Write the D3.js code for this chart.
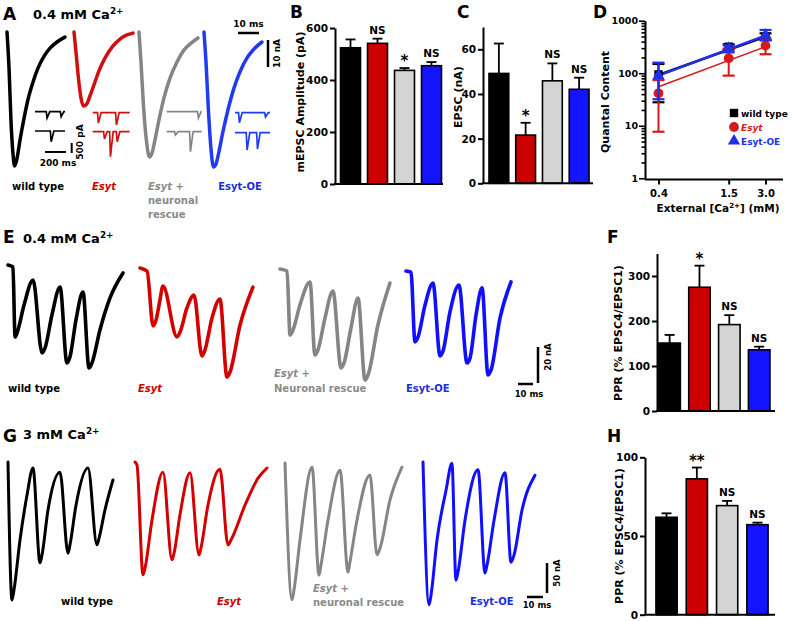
<!DOCTYPE html>
<html><head><meta charset="utf-8">
<script src="https://cdn.jsdelivr.net/npm/d3@7"></script>
<style>
body{margin:0;background:#fff}
svg{display:block}
text{font-family:"DejaVu Sans",sans-serif;font-weight:bold}
</style></head><body>
<svg id="fig" width="792" height="621"></svg>
<script>
// ---------------- DATA ----------------
const groups = ["wild type", "Esyt", "Esyt + neuronal rescue", "Esyt-OE"];
const barFill = ["#000000", "#cc0000", "#d4d4d4", "#1414ff"];
const traceCol = ["#000000", "#d01010", "#858585", "#1f3cf0"];
const trainCol = ["#000000", "#d40000", "#858585", "#1010ff"];
const textCol = ["#000000", "#cc0000", "#8a8a8a", "#1c2fd6"];

// B: mEPSC amplitude (pA)
const mepscMean = [524, 541, 437, 455];
const mepscErr = [32, 18, 9, 14];
const mepscSig = ["", "NS", "*", "NS"];
const mepscTicks = [0, 200, 400, 600];

// C: EPSC (nA)
const epscMean = [49.2, 21.6, 45.9, 42.1];
const epscErr = [13.4, 5.5, 7.8, 5.2];
const epscSig = ["", "*", "NS", "NS"];
const epscTicks = [0, 20, 40, 60];

// D: quantal content vs external Ca2+
const caConc = [0.4, 1.5, 3.0];
const qcWT = [95, 320, 497];
const qcWTLo = [28, 285, 430];
const qcWTHi = [150, 355, 575];
const qcEsyt = [41.5, 193, 335];
const qcEsytLo = [7.7, 90, 230];
const qcEsytHi = [74, 296, 440];
const qcOE = [90, 298, 535];
const qcOELo = [32, 250, 420];
const qcOEHi = [159, 340, 667];
const fitEnds = [0.4, 3.0];
const fitWT = [93, 497];
const fitEsyt = [55, 320];
const fitOE = [90, 520];
const qcTicks = [1, 10, 100, 1000];
const caTickLabels = ["0.4", "1.5", "3.0"];

// F: PPR at 0.4 mM
const pprLowMean = [151, 275, 192, 136];
const pprLowErr = [18, 48, 21, 7];
const pprLowSig = ["", "*", "NS", "NS"];
const pprLowTicks = [0, 100, 200, 300];

// H: PPR at 3 mM
const pprHighMean = [61.9, 86.3, 69.3, 57.2];
const pprHighErr = [2.5, 7.2, 3, 1.3];
const pprHighSig = ["", "**", "NS", "NS"];
const pprHighTicks = [0, 50, 100];

// A: averaged EPSC traces [ms, nA]
const aWT = [[0,0],[1,-14],[1.9,-33],[2.9,-45.5],[3.6,-49.6],[4.8,-46.7],[6.2,-40],[8.1,-32],[10,-25],[12.4,-18.5],[14.8,-13.3],[17.6,-9],[20.5,-6],[23.8,-3.7],[27.6,-1.9]];
const aEsyt = [[0,0],[0.95,-7.4],[2.1,-17],[3.3,-24.4],[4.5,-27.4],[6,-26.7],[7.6,-23.7],[9.5,-19.6],[11.9,-14.4],[14.8,-9.6],[18.1,-5.6],[21.9,-2.6],[25.2,-1.1],[28.1,-0.4]];
const aRescue = [[0,0],[0.95,-11.1],[2.1,-27],[3.6,-40.7],[5,-46.3],[6.2,-44.8],[7.6,-40],[9.5,-32.6],[11.9,-24.4],[14.8,-17],[18.1,-11.1],[21.4,-6.7],[24.8,-4.1],[28.1,-2.2]];
const aOE = [[0,0],[0.95,-11.1],[2.1,-28.9],[3.3,-43],[4.5,-50],[5.7,-48.9],[7.1,-44.4],[9,-37],[11.4,-28.9],[14.3,-20.7],[17.1,-14.8],[20.5,-9.6],[23.8,-6.3],[27.6,-3.7]];

// A insets: mEPSC events [time ms, amplitude pA], two sweeps per genotype
const miniDur = [286, 352, 333, 333];
const miniEvents = [
  [[[111,315],[245,250]], [[150,535]]],
  [[[50,515],[222,615]], [[108,365],[165,1250],[229,500]]],
  [[[298,315]], [[79,165],[222,1000]]],
  [[[38,500],[286,215]], [[111,865],[210,815]]]
];

// E: 4-pulse trains at 0.4 mM [ms, nA]
const eWT = [[0,0],[3.3,-1.1],[4.7,-40],[6,-37.8],[10.7,-22.2],[16.7,-8.3],[22.7,-48.9],[24.7,-46.1],[29.3,-27.8],[34.7,-12.2],[39.3,-54.4],[41.3,-51.1],[45.3,-30.6],[50,-15],[54,-57.2],[56,-54.4],[61.3,-36.1],[68,-18.3],[76.7,-4.4]];
const eEsyt = [[0,0],[4.7,-1.7],[8.7,-32.2],[10.7,-28.9],[13.3,-17.8],[15.3,-10],[24.7,-38.3],[26.7,-35.6],[31.3,-22.2],[36,-15],[41.3,-48.9],[43.3,-45.6],[48,-27.8],[53.3,-17.2],[58,-60.6],[60,-57.8],[66.7,-31.7],[75.3,-10.6]];
const eRescue = [[0,0],[4.7,-1.1],[6.7,-36.7],[8.7,-33.9],[13.3,-20],[20,-7.2],[23.3,-47.8],[25.3,-45],[30,-27.2],[35.3,-12.2],[40.7,-55],[42.7,-52.2],[47.3,-32.8],[52,-16.1],[56.7,-61.7],[58.7,-58.9],[65.3,-31.1],[73.3,-7.8]];
const eOE = [[0,0],[3.3,-0.6],[6,-39.4],[8,-36.7],[12.7,-18.9],[18,-6.7],[22.7,-47.2],[24.7,-44.4],[29.3,-22.8],[35.3,-7.8],[40.7,-51.1],[42.7,-48.3],[46.7,-24.4],[50.7,-9.4],[54.7,-57.8],[56.7,-55],[62.7,-26.1],[70,-6.1]];

// G: 4-pulse trains at 3 mM [ms, nA]
const gWT = [[0,0],[2.5,-230],[3.75,-213],[7.5,-130],[11.9,-55],[15.6,-10],[20,-168],[21.25,-155],[25,-80],[32.5,-17],[37.5,-152],[38.75,-138],[42.5,-72],[50,-10],[55.6,-138],[56.9,-127],[60.6,-80],[65.6,-30]];
const gEsyt = [[0,0],[1.25,-5],[5,-188],[6.25,-177],[10.6,-97],[17.5,-17],[23.1,-163],[24.4,-152],[28.1,-88],[34.4,-18],[40,-155],[41.25,-143],[45.6,-72],[53.1,-12],[58.1,-138],[60,-130],[68.75,-72],[76.9,-27],[82.5,-10]];
const gRescue = [[0,0],[4.4,-228],[5.6,-212],[9.4,-128],[16.9,-7],[21.25,-187],[22.5,-170],[26.9,-95],[34.4,-12],[39.4,-182],[40.6,-165],[45,-95],[53.1,-20],[57.5,-153],[59.4,-142],[65.6,-62],[73.1,-7]];
const gOE = [[0,0],[3.75,-238],[5,-222],[8.75,-130],[14.4,-47],[18.1,-2],[20.6,-197],[21.9,-183],[26.25,-97],[34.4,-13],[38.75,-185],[40,-172],[44.4,-97],[51.25,-18],[55,-167],[56.9,-155],[61.9,-80],[70,-22]];

// ---------------- DRAWING ----------------
const svg = d3.select("#fig");

function label(x, y, parts, o = {}) {
  const size = o.size || 10;
  const t = svg.append("text").attr("x", x).attr("y", y)
    .attr("font-size", size).attr("text-anchor", o.anchor || "start")
    .attr("fill", o.fill || "#000");
  if (o.rot) t.attr("transform", `rotate(-90 ${x} ${y})`);
  for (const p of parts) {
    const s = t.append("tspan");
    if (typeof p === "string") { s.text(p); continue; }
    s.text(p.t);
    if (p.it) s.attr("font-style", "italic");
    if (p.sup) s.attr("font-size", size * 0.68).attr("dy", -size * 0.42);
    if (p.down) s.attr("dy", size * 0.42);
  }
  return t;
}

// panel letters and titles
label(3, 20, ["A"], {size: 17});
label(33, 19, ["0.4 mM Ca", {t: "2+", sup: true}], {size: 13});
label(290, 18, ["B"], {size: 17});
label(457, 18, ["C"], {size: 17});
label(593, 18, ["D"], {size: 17});
label(3, 243, ["E"], {size: 17});
label(23, 243, ["0.4 mM Ca", {t: "2+", sup: true}], {size: 13});
label(607, 243, ["F"], {size: 17});
label(3, 442, ["G"], {size: 17});
label(23, 439, ["3 mM Ca", {t: "2+", sup: true}], {size: 13});
label(607, 442, ["H"], {size: 17});

// ---- bar panels ----
function barPanel(c) {
  const y = d3.scaleLinear().domain([0, c.max]).range([c.y0, c.yTop]);
  const x = d3.scaleBand().domain(groups).range(c.xr).paddingInner(c.pi).paddingOuter(c.po);
  const g = svg.append("g");
  const bw = x.bandwidth();
  const cx = i => x(groups[i]) + bw / 2;
  g.selectAll(null).data(c.mean).join("line")
    .attr("x1", (d, i) => cx(i)).attr("x2", (d, i) => cx(i))
    .attr("y1", d => y(d)).attr("y2", (d, i) => y(d + c.err[i]))
    .attr("stroke", "#000").attr("stroke-width", 1.8);
  g.selectAll(null).data(c.mean).join("line")
    .attr("x1", (d, i) => cx(i) - 5).attr("x2", (d, i) => cx(i) + 5)
    .attr("y1", (d, i) => y(d + c.err[i])).attr("y2", (d, i) => y(d + c.err[i]))
    .attr("stroke", "#000").attr("stroke-width", 1.8);
  g.selectAll(null).data(c.mean).join("rect")
    .attr("x", (d, i) => x(groups[i])).attr("width", bw)
    .attr("y", d => y(d)).attr("height", d => c.y0 - y(d))
    .attr("fill", (d, i) => barFill[i]).attr("stroke", "#000").attr("stroke-width", 1.6);
  c.sig.forEach((s, i) => {
    if (!s) return;
    const top = y(c.mean[i] + c.err[i]);
    if (s[0] === "*") label(cx(i), top - 2, [s], {size: 15, anchor: "middle"});
    else label(cx(i), top - 5, [s], {size: 10.5, anchor: "middle"});
  });
  const ax = g.append("g").attr("transform", `translate(${c.axisX},0)`)
    .call(d3.axisLeft(y).tickValues(c.ticks).tickSize(5).tickSizeOuter(0).tickPadding(2));
  ax.attr("font-family", null).attr("font-size", 10.5);
  ax.select(".domain").attr("stroke-width", 2);
  ax.selectAll(".tick line").attr("stroke-width", 2);
  g.append("line").attr("x1", c.axisX - 1).attr("x2", c.xEnd)
    .attr("y1", c.y0).attr("y2", c.y0).attr("stroke", "#000").attr("stroke-width", 2);
  label(c.lab[0], c.lab[1], [c.title], {size: 11, anchor: "middle", rot: true});
}

barPanel({mean: mepscMean, err: mepscErr, sig: mepscSig, ticks: mepscTicks, max: 600,
  y0: 184, yTop: 28, xr: [337, 445], pi: 0.26, po: 0.13, axisX: 335, xEnd: 443,
  title: "mEPSC Amplitude (pA)", lab: [304, 102]});
barPanel({mean: epscMean, err: epscErr, sig: epscSig, ticks: epscTicks, max: 70,
  y0: 183.3, yTop: 27, xr: [485.5, 592.5], pi: 0.26, po: 0.13, axisX: 483, xEnd: 593,
  title: "EPSC (nA)", lab: [462, 97]});
barPanel({mean: pprLowMean, err: pprLowErr, sig: pprLowSig, ticks: pprLowTicks, max: 350,
  y0: 411, yTop: 253.5, xr: [655, 773.8], pi: 0.28, po: 0.13, axisX: 657, xEnd: 775,
  title: "PPR (% EPSC4/EPSC1)", lab: [622, 333]});
barPanel({mean: pprHighMean, err: pprHighErr, sig: pprHighSig, ticks: pprHighTicks, max: 100,
  y0: 614.7, yTop: 457.3, xr: [652, 772], pi: 0.3, po: 0.13, axisX: 645, xEnd: 775,
  title: "PPR (% EPSC4/EPSC1)", lab: [623, 536]});

// ---- D: log-log quantal content ----
(function () {
  const y = d3.scaleLog().domain([1, 1000]).range([178.3, 20.7]);
  const x = d3.scaleLog().domain([0.3, 4]).range([643.2, 780.8]);
  const g = svg.append("g");
  const minor = [];
  [1, 10, 100].forEach(dec => { for (let k = 1; k < 10; k++) minor.push(dec * k); });
  minor.push(1000);
  const ax = g.append("g").attr("transform", "translate(645,0)")
    .call(d3.axisLeft(y).tickValues(minor).tickSize(6).tickSizeOuter(0).tickPadding(1)
      .tickFormat(d => qcTicks.includes(d) ? String(d) : ""));
  ax.attr("font-family", null).attr("font-size", 9.5);
  ax.select(".domain").attr("stroke-width", 2);
  ax.selectAll(".tick line").attr("stroke-width", 1.6)
    .attr("x2", d => qcTicks.includes(d) ? -6 : -3.5);
  const bx = g.append("g").attr("transform", "translate(0,179.5)")
    .call(d3.axisBottom(x).tickValues(caConc).tickSize(5).tickSizeOuter(0).tickPadding(5)
      .tickFormat((d, i) => caTickLabels[i]));
  bx.attr("font-family", null).attr("font-size", 10);
  bx.select(".domain").attr("stroke-width", 2).attr("d", "M645,0H783");
  bx.selectAll(".tick line").attr("stroke-width", 2);
  label(718, 212, ["External [Ca", {t: "2+", sup: true}, {t: "] (mM)", down: true}], {size: 10.5, anchor: "middle"});
  label(609, 102, ["Quantal Content"], {size: 11, anchor: "middle", rot: true});

  const line = d3.line().x(d => x(d[0])).y(d => y(d[1]));
  const series = [
    {m: qcWT, lo: qcWTLo, hi: qcWTHi, fit: fitWT, col: "#000000", lw: 2.6, sym: d3.symbolSquare, size: 70},
    {m: qcEsyt, lo: qcEsytLo, hi: qcEsytHi, fit: fitEsyt, col: "#d41a1a", lw: 1.6, sym: d3.symbolCircle, size: 75},
    {m: qcOE, lo: qcOELo, hi: qcOEHi, fit: fitOE, col: "#2030e8", lw: 2.6, sym: d3.symbolTriangle, size: 65}
  ];
  series.forEach(s => {
    g.append("path").attr("d", line(fitEnds.map((c, i) => [c, s.fit[i]])))
      .attr("fill", "none").attr("stroke", s.col).attr("stroke-width", s.lw);
  });
  series.forEach(s => {
    caConc.forEach((c, i) => {
      g.append("line").attr("x1", x(c)).attr("x2", x(c)).attr("y1", y(s.lo[i])).attr("y2", y(s.hi[i]))
        .attr("stroke", s.col).attr("stroke-width", 2);
      [s.lo[i], s.hi[i]].forEach(v => g.append("line").attr("x1", x(c) - 6).attr("x2", x(c) + 6)
        .attr("y1", y(v)).attr("y2", y(v)).attr("stroke", s.col).attr("stroke-width", 2.2));
    });
    g.selectAll(null).data(s.m).join("path")
      .attr("transform", (d, i) => `translate(${x(caConc[i])},${y(d)})`)
      .attr("d", d3.symbol(s.sym, s.size)).attr("fill", s.col);
  });
  // legend
  const legY = [113, 127, 141];
  series.forEach((s, i) => {
    g.append("path").attr("transform", `translate(734,${legY[i]})`)
      .attr("d", d3.symbol(s.sym, s.size)).attr("fill", s.col);
  });
  label(741, legY[0] + 3.5, ["wild type"], {size: 9});
  label(741, legY[1] + 3.5, [{t: "Esyt", it: true}], {size: 9, fill: "#d41a1a"});
  label(741, legY[2] + 3.5, ["Esyt-OE"], {size: 9, fill: "#2030e8"});
})();

// ---- trace helper ----
function drawTrace(data, x0, y0, pxMs, pxNA, col, lw) {
  const x = d3.scaleLinear().domain([0, 1]).range([x0, x0 + pxMs]);
  const y = d3.scaleLinear().domain([0, -1]).range([y0, y0 + pxNA]);
  const line = d3.line().x(d => x(d[0])).y(d => y(d[1])).curve(d3.curveMonotoneX);
  svg.append("path").attr("d", line(data)).attr("fill", "none")
    .attr("stroke", col).attr("stroke-width", lw).attr("stroke-linejoin", "round").attr("stroke-linecap", "round");
}

// A traces
const aData = [aWT, aEsyt, aRescue, aOE];
const aX = [7, 74, 139, 204];
aData.forEach((d, i) => drawTrace(d, aX[i], 32, 2.1, 2.7, traceCol[i], 3.5));
(function () {
  const sx = d3.scaleLinear().domain([0, 1]).range([0, 2.1]);
  const sy = d3.scaleLinear().domain([0, 1]).range([0, 2.7]);
  svg.append("line").attr("x1", 238).attr("x2", 238 + sx(10)).attr("y1", 33).attr("y2", 33).attr("stroke", "#000").attr("stroke-width", 2.5);
  svg.append("line").attr("x1", 268).attr("x2", 268).attr("y1", 40).attr("y2", 40 + sy(10)).attr("stroke", "#000").attr("stroke-width", 2.5);
  label(248.5, 27, ["10 ms"], {size: 9, anchor: "middle"});
  label(280, 53.5, ["10 nA"], {size: 9, anchor: "middle", rot: true});
})();

// A insets (mEPSCs)
(function () {
  const rowX = [35, 92.7, 166.7, 235];
  const rowY = [[111.7, 131], [112.7, 131.7], [111.7, 131.7], [112.7, 132.7]];
  const pxMs = 0.105, pxPA = 0.02;
  miniEvents.forEach((sweeps, gi) => {
    sweeps.forEach((ev, si) => {
      const x = d3.scaleLinear().domain([0, 1]).range([rowX[gi], rowX[gi] + pxMs]);
      const y = d3.scaleLinear().domain([0, -1]).range([rowY[gi][si], rowY[gi][si] + pxPA]);
      const pts = [[0, 0]];
      ev.forEach(([t, a]) => { pts.push([t - 4, 0], [t + 4, -a], [t + 30, 0]); });
      pts.push([miniDur[gi], 0]);
      svg.append("path").attr("d", d3.line().x(d => x(d[0])).y(d => y(d[1]))(pts))
        .attr("fill", "none").attr("stroke", traceCol[gi]).attr("stroke-width", 1.7);
    });
  });
  const sx = d3.scaleLinear().domain([0, 1]).range([0, pxMs]);
  const sy = d3.scaleLinear().domain([0, 1]).range([0, pxPA]);
  svg.append("line").attr("x1", 45).attr("x2", 45 + sx(200)).attr("y1", 152).attr("y2", 152).attr("stroke", "#000").attr("stroke-width", 2);
  svg.append("line").attr("x1", 71.7).attr("x2", 71.7).attr("y1", 153 - sy(500)).attr("y2", 153).attr("stroke", "#000").attr("stroke-width", 2);
  label(58, 166, ["200 ms"], {size: 9, anchor: "middle"});
  label(83, 142, ["500 pA"], {size: 9, anchor: "middle", rot: true});
})();

// A labels
label(38, 190, ["wild type"], {size: 10, anchor: "middle"});
label(104, 190, [{t: "Esyt", it: true}], {size: 10, anchor: "middle", fill: textCol[1]});
label(148, 190, [{t: "Esyt", it: true}, " +"], {size: 10, fill: textCol[2]});
label(148, 204, ["neuronal"], {size: 10, fill: textCol[2]});
label(148, 218, ["rescue"], {size: 10, fill: textCol[2]});
label(240, 190, ["Esyt-OE"], {size: 10, anchor: "middle", fill: textCol[3]});

// E traces
const eData = [eWT, eEsyt, eRescue, eOE];
const eX = [8, 140, 280, 406], eY = [265, 268, 269, 271];
eData.forEach((d, i) => drawTrace(d, eX[i], eY[i], 1.5, 1.8, trainCol[i], 3.6));
(function () {
  const sx = d3.scaleLinear().domain([0, 1]).range([0, 1.5]);
  const sy = d3.scaleLinear().domain([0, 1]).range([0, 1.8]);
  svg.append("line").attr("x1", 518).attr("x2", 518 + sx(10)).attr("y1", 384).attr("y2", 384).attr("stroke", "#000").attr("stroke-width", 2.5);
  svg.append("line").attr("x1", 538).attr("x2", 538).attr("y1", 383 - sy(20)).attr("y2", 383).attr("stroke", "#000").attr("stroke-width", 2.5);
  label(529, 397, ["10 ms"], {size: 8.5, anchor: "middle"});
  label(551, 357, ["20 nA"], {size: 8.5, anchor: "middle", rot: true});
})();
label(8, 392, ["wild type"], {size: 10});
label(138, 392, [{t: "Esyt", it: true}], {size: 10, fill: textCol[1]});
label(274, 377, [{t: "Esyt", it: true}, " +"], {size: 10, fill: textCol[2]});
label(274, 392, ["Neuronal rescue"], {size: 10, fill: textCol[2]});
label(406, 392, ["Esyt-OE"], {size: 10, fill: textCol[3]});

// G traces
const gData = [gWT, gEsyt, gRescue, gOE];
const gX = [8, 135, 285, 423], gY = [462, 462, 463, 462];
gData.forEach((d, i) => drawTrace(d, gX[i], gY[i], 1.6, 0.6, trainCol[i], 3));
(function () {
  const sx = d3.scaleLinear().domain([0, 1]).range([0, 1.6]);
  const sy = d3.scaleLinear().domain([0, 1]).range([0, 0.6]);
  svg.append("line").attr("x1", 527).attr("x2", 527 + sx(10)).attr("y1", 597).attr("y2", 597).attr("stroke", "#000").attr("stroke-width", 2.5);
  svg.append("line").attr("x1", 547).attr("x2", 547).attr("y1", 593 - sy(50)).attr("y2", 593).attr("stroke", "#000").attr("stroke-width", 2.5);
  label(537, 608, ["10 ms"], {size: 8.5, anchor: "middle"});
  label(560, 573, ["50 nA"], {size: 8.5, anchor: "middle", rot: true});
})();
label(61, 605, ["wild type"], {size: 10});
label(217, 605, [{t: "Esyt", it: true}], {size: 10, fill: textCol[1]});
label(313, 592, [{t: "Esyt", it: true}, " +"], {size: 10, fill: textCol[2]});
label(313, 606, ["neuronal rescue"], {size: 10, fill: textCol[2]});
label(470, 605, ["Esyt-OE"], {size: 10, fill: textCol[3]});
</script>
</body></html>
